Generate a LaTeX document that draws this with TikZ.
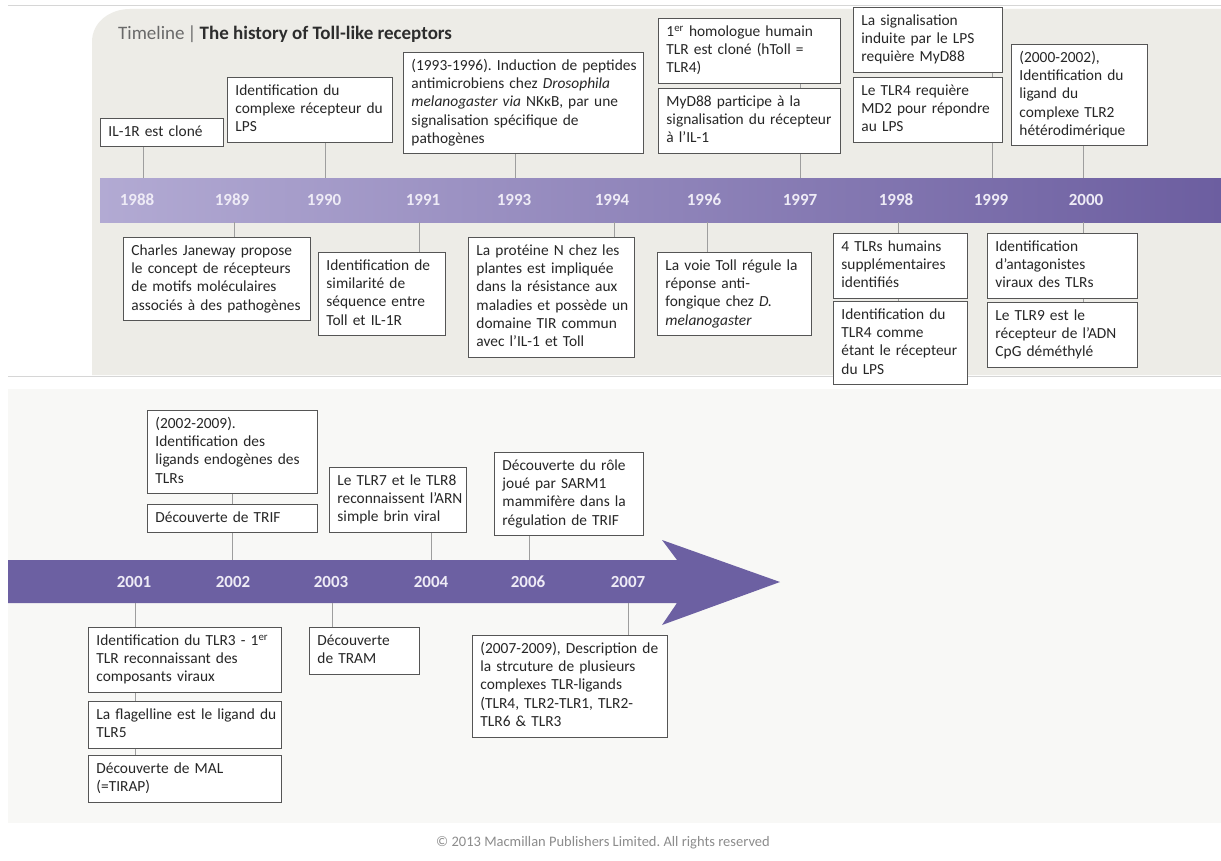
\documentclass[tikz,border=0pt]{standalone}
\usepackage{fontspec}
\setmainfont{Carlito}
\frenchspacing
\definecolor{panelA}{RGB}{237,236,231}
\definecolor{panelB}{RGB}{248,248,246}
\definecolor{sepline}{RGB}{214,214,214}
\definecolor{boxline}{RGB}{85,85,85}
\definecolor{connc}{RGB}{158,158,158}
\definecolor{bandL}{RGB}{178,170,211}
\definecolor{bandR}{RGB}{108,94,160}
\definecolor{arrowc}{RGB}{108,96,162}
\definecolor{yrtxt}{RGB}{238,235,246}
\definecolor{titlegray}{RGB}{105,105,105}
\definecolor{titledark}{RGB}{45,45,45}
\definecolor{copyc}{RGB}{140,140,140}
\newcommand\bl[1]{\mbox{#1}}
\tikzset{
  evbox/.style={draw=boxline, fill=white, line width=0.9pt, anchor=north west, align=left,
    inner xsep=8pt, inner ysep=5pt, font=\fontsize{15.4}{18.3}\selectfont, text=black!85,
    execute at begin node=\strut, execute at end node=\strut},
  conn/.style={draw=connc, line width=1pt},
  yrlabel/.style={font=\fontsize{17}{20}\selectfont\bfseries, text=yrtxt, inner sep=0pt},
}
\begin{document}
\begin{tikzpicture}[x=1pt,y=-1pt]
\useasboundingbox (0,0) rectangle (1221,861);
\fill[white] (0,0) rectangle (1221,861);
% panels
\draw[sepline, line width=1pt] (8,6) -- (1221,6);
\fill[panelA] (92,375) -- (92,42) .. controls (92,22) and (110,9) .. (130,9) -- (1221,9) -- (1221,375) -- cycle;
\draw[sepline, line width=1.2pt] (8,376.5) -- (1221,376.5);
\fill[panelB] (8,389) rectangle (1221,823);
% title
\node[anchor=west, inner sep=0pt, font=\fontsize{19}{22}\selectfont] (title) at (118,34)
  {\textcolor{titlegray}{Timeline\,|\,}\textcolor{titledark}{\bfseries The history of Toll-like receptors}};
% top band
\node[anchor=north west, inner sep=0pt, minimum width=1121pt, minimum height=44pt, shade, left color=bandL, right color=bandR] (band1) at (100,178) {};
\foreach \yr/\xx in {1988/137,1989/232,1990/324,1991/423,1993/514,1994/612,1996/704,1997/800,1998/896,1999/991,2000/1086}
  \node[yrlabel] (y\yr) at (\xx,200) {\yr};
% connector x positions (top part)
\coordinate (k88) at (143,0);
\coordinate (k89) at (234,0);
\coordinate (k90) at (325,0);
\coordinate (k91) at (419,0);
\coordinate (k93) at (515,0);
\coordinate (k94) at (614,0);
\coordinate (k96) at (707,0);
\coordinate (k97) at (800,0);
\coordinate (k98) at (898,0);
\coordinate (k99) at (992,0);
\coordinate (k00) at (1083,0);
% upper boxes
\node[evbox, text width=107pt] (t1) at (100,118) {\bl{IL-1R est cloné}};
\node[evbox, text width=149pt] (t2) at (227,77) {\bl{Identification du}\\\bl{complexe récepteur du}\\\bl{LPS}};
\node[evbox, text width=224pt] (t3) at (403,52) {\bl{(1993-1996). Induction de peptides}\\\bl{antimicrobiens chez \textit{Drosophila}}\\\bl{\textit{melanogaster via} NKκB, par une}\\\bl{signalisation spécifique de}\\\bl{pathogènes}};
\node[evbox, text width=166pt] (t4a) at (658,18) {\bl{1\textsuperscript{er} homologue humain}\\\bl{TLR est cloné (hToll =}\\\bl{TLR4)}};
\node[evbox, text width=166pt] (t4b) at (658,88) {\bl{MyD88 participe à la}\\\bl{signalisation du récepteur}\\\bl{à l’IL-1}};
\node[evbox, text width=133pt] (t5a) at (853,7) {\bl{La signalisation}\\\bl{induite par le LPS}\\\bl{requière MyD88}};
\node[evbox, text width=133pt] (t5b) at (853,77) {\bl{Le TLR4 requière}\\\bl{MD2 pour répondre}\\\bl{au LPS}};
\node[evbox, text width=120pt] (t6) at (1011,44) {\bl{(2000-2002),}\\\bl{Identification du}\\\bl{ligand du}\\\bl{complexe TLR2}\\\bl{hétérodimérique}};
% lower boxes (top part)
\node[evbox, text width=171pt] (b1) at (123,237) {\bl{Charles Janeway propose}\\\bl{le concept de récepteurs}\\\bl{de motifs moléculaires}\\\bl{associés à des pathogènes}};
\node[evbox, text width=111pt] (b2) at (318,252) {\bl{Identification de}\\\bl{similarité de}\\\bl{séquence entre}\\\bl{Toll et IL-1R}};
\node[evbox, text width=150pt] (b3) at (468,237) {\bl{La protéine N chez les}\\\bl{plantes est impliquée}\\\bl{dans la résistance aux}\\\bl{maladies et possède un}\\\bl{domaine TIR commun}\\\bl{avec l’IL-1 et Toll}};
\node[evbox, text width=138pt] (b4) at (657,252) {\bl{La voie Toll régule la}\\\bl{réponse anti-}\\\bl{fongique chez \textit{D.}}\\\bl{\textit{melanogaster}}};
\node[evbox, text width=118pt] (b5a) at (833,233) {\bl{4 TLRs humains}\\\bl{supplémentaires}\\\bl{identifiés}};
\node[evbox, text width=118pt] (b5b) at (833,301) {\bl{Identification du}\\\bl{TLR4 comme}\\\bl{étant le récepteur}\\\bl{du LPS}};
\node[evbox, text width=134pt] (b6a) at (987,233) {\bl{Identification}\\\bl{d’antagonistes}\\\bl{viraux des TLRs}};
\node[evbox, text width=134pt] (b6b) at (987,302) {\bl{Le TLR9 est le}\\\bl{récepteur de l’ADN}\\\bl{CpG déméthylé}};
% connectors top part
\draw[conn] (t1.south -| k88) -- (band1.north -| k88);
\draw[conn] (t2.south -| k90) -- (band1.north -| k90);
\draw[conn] (t3.south -| k93) -- (band1.north -| k93);
\draw[conn] (t4a.south -| k97) -- (t4b.north -| k97);
\draw[conn] (t4b.south -| k97) -- (band1.north -| k97);
\draw[conn] (t5a.south -| k99) -- (t5b.north -| k99);
\draw[conn] (t5b.south -| k99) -- (band1.north -| k99);
\draw[conn] (t6.south -| k00) -- (band1.north -| k00);
\draw[conn] (band1.south -| k89) -- (b1.north -| k89);
\draw[conn] (band1.south -| k91) -- (b2.north -| k91);
\draw[conn] (band1.south -| k94) -- (b3.north -| k94);
\draw[conn] (band1.south -| k96) -- (b4.north -| k96);
\draw[conn] (band1.south -| k98) -- (b5a.north -| k98);
\draw[conn] (b5a.south -| k98) -- (b5b.north -| k98);
\draw[conn] (band1.south -| k00) -- (b6a.north -| k00);
\draw[conn] (b6a.south -| k00) -- (b6b.north -| k00);
% bottom arrow
\coordinate (aw0) at (8,560);
\coordinate (aw1) at (8,603);
\coordinate (ah0) at (662,540);
\coordinate (ah1) at (662,625);
\coordinate (atip) at (780,582);
\fill[arrowc] (aw0) -- (677,560) -- (ah0) -- (atip) -- (ah1) -- (677,603) -- (aw1) -- cycle;
\foreach \yr/\xx in {2001/134,2002/233,2003/331,2004/431,2006/528,2007/628}
  \node[yrlabel] (y\yr) at (\xx,582) {\yr};
\coordinate (k01) at (135,0);
\coordinate (k02) at (232,0);
\coordinate (k03) at (332,0);
\coordinate (k04) at (431,0);
\coordinate (k06) at (529,0);
\coordinate (k07) at (628,0);
\coordinate (atop) at (0,560);
\coordinate (abot) at (0,603);
% bottom boxes
\node[evbox, text width=154pt] (u1) at (147,410) {\bl{(2002-2009).}\\\bl{Identification des}\\\bl{ligands endogènes des}\\\bl{TLRs}};
\node[evbox, text width=154pt] (u2) at (147,504) {\bl{Découverte de TRIF}};
\node[evbox, text width=121pt] (u3) at (329,467) {\bl{Le TLR7 et le TLR8}\\\bl{reconnaissent l’ARN}\\\bl{simple brin viral}};
\node[evbox, text width=133pt] (u4) at (494,452) {\bl{Découverte du rôle}\\\bl{joué par SARM1}\\\bl{mammifère dans la}\\\bl{régulation de TRIF}};
\node[evbox, text width=177pt] (d1) at (88,627) {\bl{Identification du TLR3 - 1\textsuperscript{er}}\\\bl{TLR reconnaissant des}\\\bl{composants viraux}};
\node[evbox, text width=177pt] (d2) at (88,701) {\bl{La flagelline est le ligand du}\\\bl{TLR5}};
\node[evbox, text width=177pt] (d3) at (88,755) {\bl{Découverte de MAL}\\\bl{(=TIRAP)}};
\node[evbox, text width=94pt] (d4) at (309,627) {\bl{Découverte}\\\bl{de TRAM}};
\node[evbox, text width=179pt] (d5) at (472,635) {\bl{(2007-2009), Description de}\\\bl{la strcuture de plusieurs}\\\bl{complexes TLR-ligands}\\\bl{(TLR4, TLR2-TLR1, TLR2-}\\\bl{TLR6 \& TLR3}};
% bottom connectors
\draw[conn] (u1.south -| k02) -- (u2.north -| k02);
\draw[conn] (u2.south -| k02) -- (atop -| k02);
\draw[conn] (u3.south -| k04) -- (atop -| k04);
\draw[conn] (u4.south -| k06) -- (atop -| k06);
\draw[conn] (abot -| k01) -- (d1.north -| k01);
\draw[conn] (d1.south -| k01) -- (d2.north -| k01);
\draw[conn] (d2.south -| k01) -- (d3.north -| k01);
\draw[conn] (abot -| k03) -- (d4.north -| k03);
\draw[conn] (abot -| k07) -- (d5.north -| k07);
% copyright
\node[font=\fontsize{14.5}{17}\selectfont, text=copyc, inner sep=0pt] (copy) at (603,843) {© 2013 Macmillan Publishers Limited. All rights reserved};
\end{tikzpicture}
\end{document}
